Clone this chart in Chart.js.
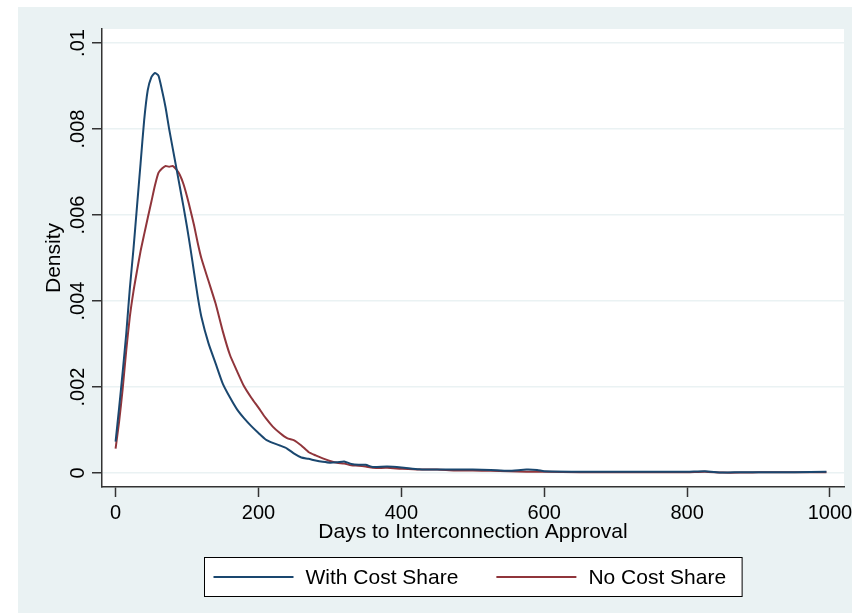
<!DOCTYPE html>
<html>
<head>
<meta charset="utf-8">
<script src="https://cdn.jsdelivr.net/npm/chart.js@4.4.1/dist/chart.umd.min.js"></script>
<style>
  html, body { margin: 0; padding: 0; background: #fff; }
  #wrap { width: 852px; height: 614px; }
</style>
</head>
<body>
<div id="wrap"><canvas id="density"></canvas></div>
<script>
// days to interconnection approval (x grid of the kernel density)
const days = [0, 5, 10, 15, 20, 25, 30, 35, 40, 45, 50, 55, 60, 65, 70, 75, 80, 85, 90, 95,
  100, 105, 110, 115, 120, 130, 140, 150, 160, 170, 180, 190, 200, 210, 220, 230, 240, 250,
  260, 270, 280, 290, 300, 310, 320, 330, 340, 350, 360, 380, 400, 425, 450, 475, 500, 525,
  550, 575, 590, 600, 650, 700, 750, 800, 825, 850, 875, 900, 950, 995];

const withCostShare = [0.00073, 0.00152, 0.00236, 0.00325, 0.0043, 0.0052, 0.0062, 0.0072,
  0.0082, 0.0089, 0.0092, 0.0093, 0.00924, 0.0089, 0.0085, 0.008, 0.00755, 0.0071, 0.00665,
  0.0062, 0.00572, 0.0052, 0.00465, 0.0041, 0.00364, 0.00302, 0.00255, 0.00208, 0.00176,
  0.00148, 0.00127, 0.00109, 0.00093, 0.00078, 0.0007, 0.00064, 0.00057, 0.00045, 0.00036,
  0.00033, 0.00029, 0.00026, 0.00024, 0.00025, 0.00027, 0.00021, 0.00019, 0.00019, 0.00014,
  0.00015, 0.00013, 0.00009, 0.00008, 0.00008, 0.00008, 0.00007, 0.00005, 0.00008, 0.00007,
  0.00004, 0.00003, 0.00003, 0.00003, 0.00003, 0.00004, 0.00001, 0.00002, 0.00002, 0.00002,
  0.00003];

const noCostShare = [0.00057, 0.0012, 0.00197, 0.00286, 0.00364, 0.00422, 0.0047, 0.00516,
  0.00555, 0.00593, 0.0063, 0.00668, 0.00698, 0.00708, 0.00714, 0.00712, 0.00714, 0.00706,
  0.00693, 0.00672, 0.00643, 0.0061, 0.00575, 0.00535, 0.005, 0.00447, 0.00394, 0.0033,
  0.00275, 0.00237, 0.00201, 0.00175, 0.00152, 0.00128, 0.00108, 0.00093, 0.00081, 0.00076,
  0.00064, 0.00049, 0.00041, 0.00034, 0.00028, 0.00024, 0.00022, 0.00018, 0.00017, 0.00015,
  0.00012, 0.00012, 0.0001, 0.00008, 0.00008, 0.00006, 0.00006, 0.00005, 0.00004, 0.00003,
  0.00003, 0.00003, 0.00002, 0.00002, 0.00002, 0.00002, 0.00003, 0.00001, 0.00001, 0.00002,
  0.00002, 0.00002];

const xTicks = [0, 200, 400, 600, 800, 1000];
const xTickLabels = ["0", "200", "400", "600", "800", "1000"];
const yTicks = [0, 0.002, 0.004, 0.006, 0.008, 0.01];
const yTickLabels = ["0", ".002", ".004", ".006", ".008", ".01"];

const FONT = "'Liberation Sans', Arial, sans-serif";
const BG = "#eaf2f3";
const AXIS = "#333";

// stata-like backdrop: grey graph region, white plot region
const backdrop = {
  id: "backdrop",
  beforeDraw(chart) {
    const ctx = chart.ctx, a = chart.chartArea;
    ctx.save();
    ctx.fillStyle = "#fff";
    ctx.fillRect(0, 0, chart.width, chart.height);
    ctx.fillStyle = BG;
    ctx.fillRect(18, 7, chart.width - 18, chart.height - 8);
    ctx.fillStyle = "#fff";
    ctx.fillRect(a.left, a.top, a.right - a.left, a.bottom - a.top);
    ctx.restore();
  }
};

// boxed legend under the plot
const boxLegend = {
  id: "boxLegend",
  afterDraw(chart) {
    const ctx = chart.ctx, a = chart.chartArea;
    const sets = chart.data.datasets;
    ctx.save();
    ctx.font = "21px " + FONT;
    const lineW = 80, gap = 12, between = 38;
    let content = 0;
    sets.forEach((d, i) => {
      content += lineW + gap + ctx.measureText(d.label).width;
      if (i < sets.length - 1) content += between;
    });
    const boxW = content + 25;
    const cx = (a.left + a.right) / 2;
    const left = Math.round(cx - boxW / 2) + 0.5;
    const top = 557.5, h = 39;
    ctx.fillStyle = "#fff";
    ctx.fillRect(left, top, boxW, h);
    ctx.strokeStyle = "#000";
    ctx.lineWidth = 1;
    ctx.strokeRect(left, top, boxW, h);
    let x = left + 9;
    const y = top + h / 2;
    sets.forEach(d => {
      ctx.strokeStyle = d.borderColor;
      ctx.lineWidth = 2;
      ctx.beginPath();
      ctx.moveTo(x, y);
      ctx.lineTo(x + lineW, y);
      ctx.stroke();
      x += lineW + gap;
      ctx.fillStyle = "#000";
      ctx.textBaseline = "middle";
      ctx.textAlign = "left";
      ctx.fillText(d.label, x, y + 1);
      x += ctx.measureText(d.label).width + between;
    });
    ctx.restore();
  }
};

new Chart(document.getElementById("density"), {
  type: "line",
  data: {
    labels: days,
    datasets: [
      {
        label: "With Cost Share",
        data: withCostShare,
        borderColor: "#1a476f",
        borderWidth: 2,
        pointRadius: 0,
        tension: 0.2,
        fill: false
      },
      {
        label: "No Cost Share",
        data: noCostShare,
        borderColor: "#90353b",
        borderWidth: 2,
        pointRadius: 0,
        tension: 0.2,
        fill: false
      }
    ]
  },
  options: {
    responsive: true,
    maintainAspectRatio: false,
    animation: false,
    layout: { padding: { left: 18, right: 8, top: 29, bottom: 69 } },
    plugins: {
      legend: { display: false },
      tooltip: { enabled: false }
    },
    scales: {
      x: {
        type: "linear",
        min: -19,
        max: 1019.6,
        afterBuildTicks: s => { s.ticks = xTicks.map(v => ({ value: v })); },
        afterFit: s => { s.height = 58; s.paddingLeft = 0; s.paddingRight = 0; },
        border: { display: true, color: AXIS, width: 1.5 },
        grid: { drawOnChartArea: false, drawTicks: true, tickLength: 10, tickColor: AXIS, tickWidth: 1.5 },
        ticks: {
          color: "#000",
          font: { family: FONT, size: 20 },
          padding: 4,
          maxRotation: 0,
          callback: (v, i) => xTickLabels[i]
        },
        title: {
          display: true,
          text: "Days to Interconnection Approval",
          color: "#000",
          font: { family: FONT, size: 21 },
          padding: { top: 0, bottom: 0 }
        }
      },
      y: {
        min: -0.000325,
        max: 0.010325,
        afterBuildTicks: s => { s.ticks = yTicks.map(v => ({ value: v })); },
        afterFit: s => { s.width = 84; s.paddingTop = 0; s.paddingBottom = 0; },
        border: { display: true, color: AXIS, width: 1.5 },
        grid: { color: BG, lineWidth: 1.5, drawTicks: true, tickLength: 10, tickColor: AXIS, tickWidth: 1.5 },
        ticks: {
          color: "#000",
          font: { family: FONT, size: 20 },
          minRotation: 90,
          maxRotation: 90,
          crossAlign: "center",
          padding: -6,
          callback: (v, i) => yTickLabels[i]
        },
        title: {
          display: true,
          text: "Density",
          color: "#000",
          font: { family: FONT, size: 21 },
          padding: { top: 24, bottom: 0 }
        }
      }
    }
  },
  plugins: [backdrop, boxLegend]
});
</script>
</body>
</html>
